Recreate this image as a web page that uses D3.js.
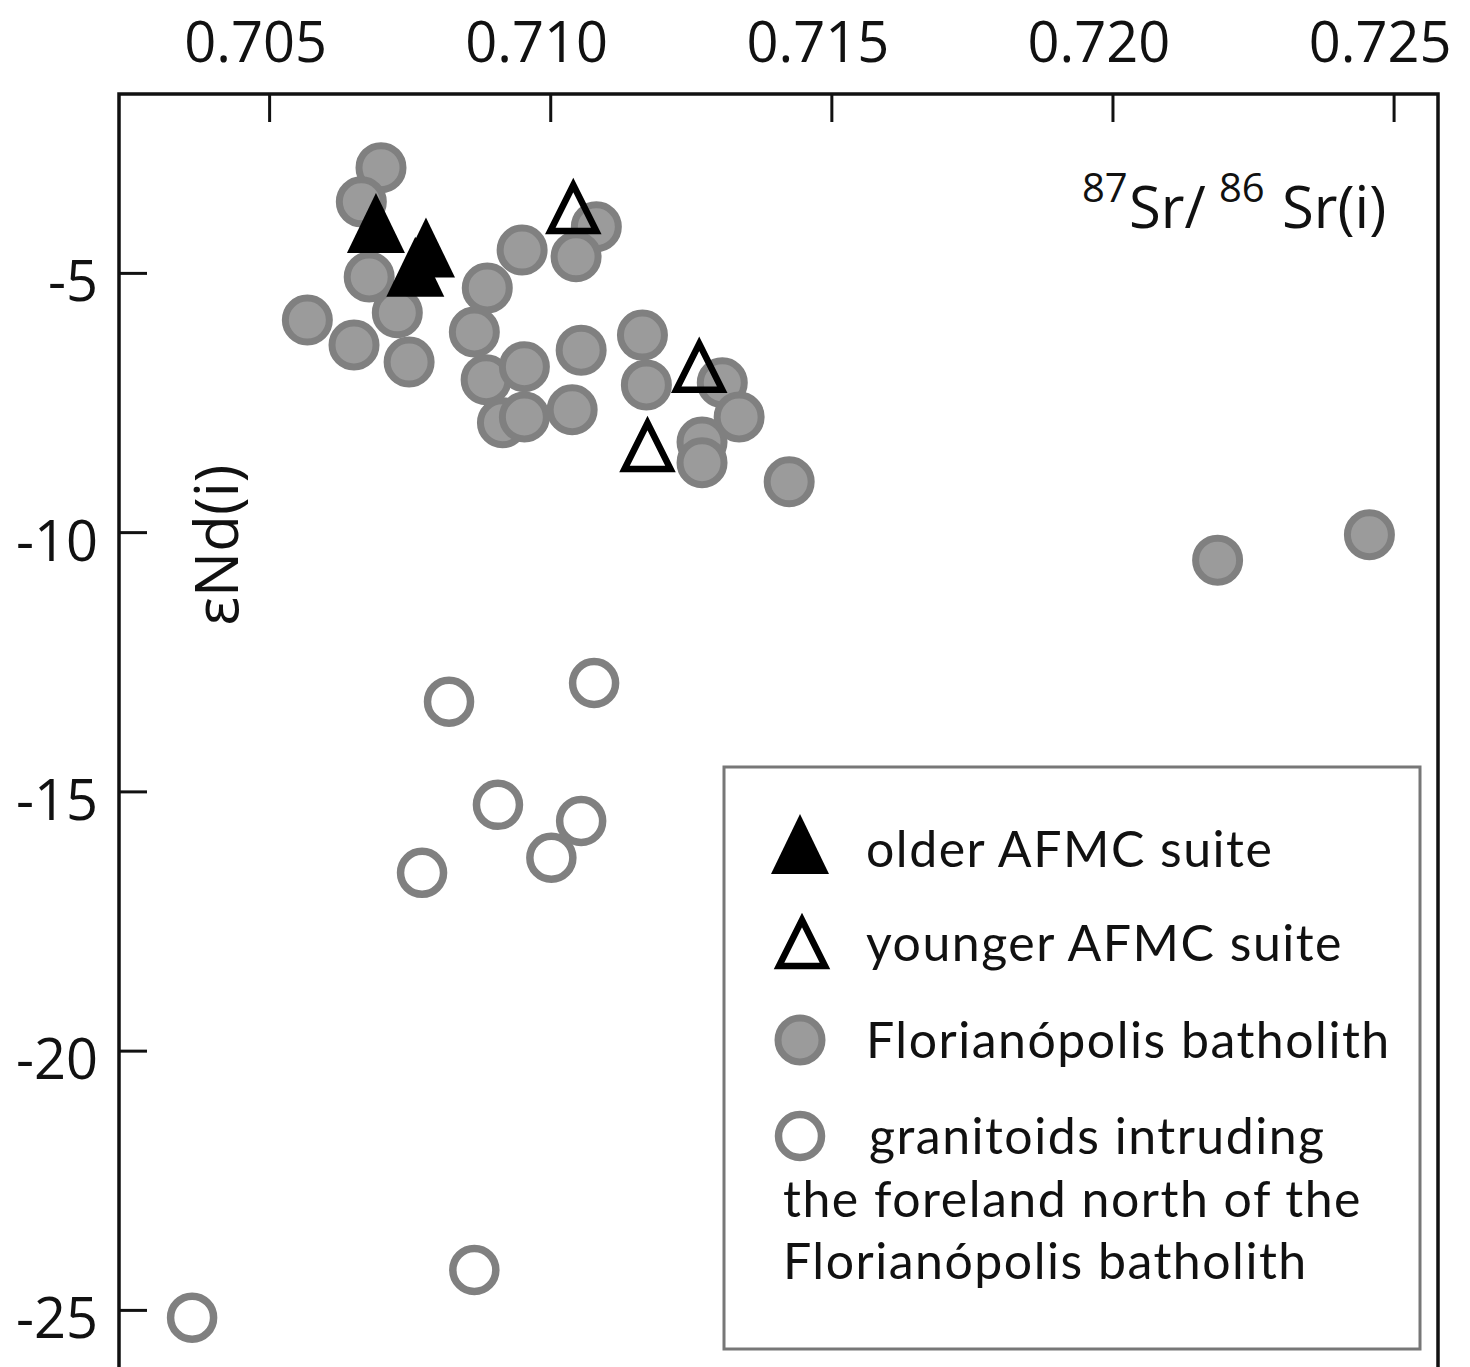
<!DOCTYPE html>
<html>
<head>
<meta charset="utf-8">
<script src="https://cdn.jsdelivr.net/npm/d3@7"></script>
<style>
  body { margin: 0; background: #fff; }
  svg { display: block; font-family: "Open Sans", "Noto Sans", sans-serif; }
</style>
</head>
<body>
<svg id="chart"></svg>
<script>
// 87Sr/86Sr(i) vs eNd(i)
const olderAFMC = [
  [0.70690, -4.04], [0.70779, -4.51], [0.70760, -4.88]
];
const youngerAFMC = [
  [0.71041, -3.75], [0.71265, -6.81], [0.71173, -8.34]
];
const florianopolis = [
  [0.70699, -2.97], [0.70664, -3.63], [0.70678, -5.08], [0.70728, -5.77],
  [0.70568, -5.91], [0.70651, -6.39], [0.70749, -6.72], [0.71082, -4.11],
  [0.70950, -4.56], [0.71046, -4.69], [0.70888, -5.29], [0.70865, -6.14],
  [0.70886, -7.06], [0.70954, -6.81], [0.71055, -6.49], [0.71164, -6.20],
  [0.71171, -7.16], [0.70915, -7.89], [0.70954, -7.78], [0.71039, -7.64],
  [0.71306, -7.12], [0.71336, -7.78], [0.71270, -8.26], [0.71270, -8.66],
  [0.71425, -9.03], [0.72187, -10.54], [0.72457, -10.05]
];
const foreland = [
  [0.70820, -13.27], [0.71078, -12.91], [0.70907, -15.26], [0.71055, -15.57],
  [0.71002, -16.28], [0.70772, -16.57], [0.70363, -25.15], [0.70865, -24.23]
];
const xTicks = [0.705, 0.710, 0.715, 0.720, 0.725];
const yTicks = [-5, -10, -15, -20, -25];
const xExtent = [0.70233, 0.72579];
const yExtent = [-1.55, -26.14];
const legendLabels = ["older AFMC suite", "younger AFMC suite", "Florianópolis batholith", "granitoids intruding"];
const legendWrap = ["the foreland north of the", "Florianópolis batholith"];

const width = 1470;
const height = 1367;
const plotLeft = 119, plotRight = 1438, plotTop = 94, plotBottom = 1369;

const svg = d3.select("#chart")
  .attr("width", width)
  .attr("height", height);

svg.append("rect").attr("width", width).attr("height", height).attr("fill", "#fff");

const x = d3.scaleLinear().domain(xExtent).range([plotLeft, plotRight]);
const y = d3.scaleLinear().domain(yExtent).range([plotTop, plotBottom]);

// axes: ticks point inward, labels outside
const xAxis = svg.append("g")
  .attr("transform", `translate(0,${plotTop})`)
  .call(d3.axisTop(x)
    .tickValues(xTicks)
    .tickSizeInner(-28)
    .tickSizeOuter(0)
    .tickPadding(32)
    .tickFormat(d3.format(".3f")));
xAxis.select(".domain").remove();
xAxis.selectAll("line").attr("stroke", "#111").attr("stroke-width", 3);
xAxis.selectAll("text")
  .attr("font-size", 56)
  .attr("font-family", "Open Sans")
  .attr("fill", "#111")
  .attr("dx", -14);

const yAxis = svg.append("g")
  .attr("transform", `translate(${plotLeft},0)`)
  .call(d3.axisLeft(y)
    .tickValues(yTicks)
    .tickSizeInner(-28)
    .tickSizeOuter(0)
    .tickPadding(21)
    .tickFormat(d => String(d)));
yAxis.select(".domain").remove();
yAxis.selectAll("line").attr("stroke", "#111").attr("stroke-width", 3);
yAxis.selectAll("text")
  .attr("font-size", 56)
  .attr("font-family", "Open Sans")
  .attr("fill", "#111")
  .attr("dy", "0.5em");

// frame
svg.append("rect")
  .attr("x", plotLeft).attr("y", plotTop)
  .attr("width", plotRight - plotLeft).attr("height", plotBottom - plotTop)
  .attr("fill", "none")
  .attr("stroke", "#111")
  .attr("stroke-width", 3.5);

// axis titles
const sr = svg.append("text").attr("fill", "#111").attr("font-size", 58);
sr.append("tspan").attr("x", 1082).attr("y", 202).attr("font-size", 40).text("87");
sr.append("tspan").attr("x", 1129).attr("y", 228).text("Sr/");
sr.append("tspan").attr("x", 1219).attr("y", 202).attr("font-size", 40).text("86");
sr.append("tspan").attr("x", 1282).attr("y", 228).text("Sr(i)");

svg.append("text")
  .attr("transform", "translate(238,545) rotate(-90)")
  .attr("text-anchor", "middle")
  .attr("font-size", 60)
  .attr("fill", "#111")
  .text("εNd(i)");

// markers
const triPath = (w, h) => `M0,${-h / 2}L${w / 2},${h / 2}L${-w / 2},${h / 2}Z`;

const drawFilledCircle = (sel) => sel
  .attr("r", 22).attr("fill", "#9b9b9b").attr("stroke", "#808080").attr("stroke-width", 7);
const drawOpenCircle = (sel) => sel
  .attr("r", 21.5).attr("fill", "#fff").attr("stroke", "#808080").attr("stroke-width", 7.5);
const drawBlackTri = (sel) => sel
  .attr("d", triPath(58, 60)).attr("fill", "#000");
const drawOpenTri = (sel) => sel
  .attr("d", triPath(46, 46)).attr("fill", "none").attr("stroke", "#000")
  .attr("stroke-width", 6.5).attr("stroke-linejoin", "miter");

const g = svg.append("g");

g.selectAll("circle.flo")
  .data(florianopolis)
  .join("circle")
  .attr("class", "flo")
  .attr("cx", d => x(d[0]))
  .attr("cy", d => y(d[1]))
  .call(drawFilledCircle);

g.selectAll("circle.fore")
  .data(foreland)
  .join("circle")
  .attr("class", "fore")
  .attr("cx", d => x(d[0]))
  .attr("cy", d => y(d[1]))
  .call(drawOpenCircle);

g.selectAll("path.older")
  .data(olderAFMC)
  .join("path")
  .attr("class", "older")
  .attr("transform", d => `translate(${x(d[0])},${y(d[1])})`)
  .call(drawBlackTri);

g.selectAll("path.younger")
  .data(youngerAFMC)
  .join("path")
  .attr("class", "younger")
  .attr("transform", d => `translate(${x(d[0])},${y(d[1])})`)
  .call(drawOpenTri);

// legend
const lg = svg.append("g")
  .attr("font-family", "Lato, 'Liberation Sans', sans-serif")
  .attr("letter-spacing", 1.5);
lg.append("rect")
  .attr("x", 724).attr("y", 767)
  .attr("width", 696).attr("height", 582)
  .attr("fill", "#fff")
  .attr("stroke", "#777")
  .attr("stroke-width", 3);

const symX = 800;
const rowsY = [844, 941, 1040, 1136];
const textBase = [867, 961, 1058, 1154];

lg.append("path").attr("transform", `translate(${symX},${rowsY[0]})`).call(drawBlackTri);
lg.append("path").attr("transform", `translate(${symX + 2},${rowsY[1] + 2})`).call(drawOpenTri);
lg.append("circle").attr("cx", symX).attr("cy", rowsY[2]).call(drawFilledCircle);
lg.append("circle").attr("cx", symX).attr("cy", rowsY[3]).call(drawOpenCircle);

lg.selectAll("text.lab")
  .data(legendLabels)
  .join("text")
  .attr("class", "lab")
  .attr("x", (d, i) => i === 3 ? 869 : 866)
  .attr("y", (d, i) => textBase[i])
  .attr("font-size", 50)
  .attr("fill", "#111")
  .text(d => d);

lg.selectAll("text.wrap")
  .data(legendWrap)
  .join("text")
  .attr("class", "wrap")
  .attr("x", 783)
  .attr("y", (d, i) => 1217 + i * 62)
  .attr("font-size", 50)
  .attr("fill", "#111")
  .text(d => d);
</script>
</body>
</html>
